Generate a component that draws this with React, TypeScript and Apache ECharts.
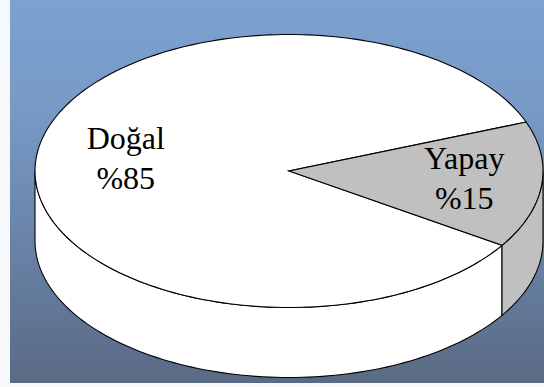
import React, { useEffect, useRef } from "react";
import * as echarts from "echarts";

const categories = ["Doğal", "Yapay"];
const values = [85, 15];
const sliceColors = ["#FFFFFF", "#C0C0C0"];
const labelPrefix = "%";

// geometry of the 3D pie (pixels)
const CX = 289;
const CY = 171;
const RX = 254;
const RY = 136.5;
const DEPTH = 70;
const START_DEG = 33;
const LABEL_R = 0.67;
const LINE_GAP = 40;
const FONT = "32px Times New Roman";

const total = values.reduce((a, b) => a + b, 0);
const sliceAngles = (() => {
  let acc = START_DEG;
  return values.map((v) => {
    const a0 = acc;
    const a1 = acc + (v / total) * 360;
    acc = a1;
    return { a0, a1 };
  });
})();

const pt = (deg: number, dy = 0, r = 1): number[] => {
  const t = (deg * Math.PI) / 180;
  return [CX + r * RX * Math.cos(t), CY + r * RY * Math.sin(t) + dy];
};

const arc = (from: number, to: number, dy = 0): number[][] => {
  const n = Math.max(2, Math.ceil(Math.abs(to - from) / 1.5));
  const out: number[][] = [];
  for (let i = 0; i <= n; i++) out.push(pt(from + ((to - from) * i) / n, dy));
  return out;
};

const measure = (txt: string): number => {
  const c = document.createElement("canvas").getContext("2d");
  if (!c) return txt.length * 16;
  c.font = FONT;
  return c.measureText(txt).width;
};

export default function App() {
  const ref = useRef<HTMLDivElement>(null);
  useEffect(() => {
    if (!ref.current) return;
    const chart = echarts.init(ref.current, undefined, { renderer: "svg" });
    const data = values.map((v, i) => ({ name: categories[i], value: v }));
    const labels: any[] = [];
    values.forEach((v, i) => {
      const { a0, a1 } = sliceAngles[i];
      const lp = pt((a0 + a1) / 2, -3, LABEL_R);
      [categories[i], labelPrefix + v].forEach((line, j) => {
        const w = measure(line);
        labels.push({
          type: "text",
          x: lp[0] + 6 - w / 2,
          y: lp[1] + (j - 0.5) * LINE_GAP - 16,
          style: { text: line, font: FONT, fill: "#000" },
        });
      });
    });
    chart.setOption({
      animation: false,
      graphic: [
        {
          type: "rect",
          z: 0,
          shape: { x: 0, y: 0, width: 544, height: 387 },
          style: { fill: "#F7F8FA" },
        },
        {
          type: "rect",
          z: 1,
          shape: { x: 10, y: 0, width: 534, height: 383 },
          style: {
            fill: new echarts.graphic.LinearGradient(0, 0, 0, 1, [
              { offset: 0, color: "#7CA2CF" },
              { offset: 0.3, color: "#7799C6" },
              { offset: 1, color: "#5A6A84" },
            ]),
          },
        },
        ...labels.map((l) => ({ ...l, z: 100 })),
      ],
      series: [
        {
          type: "custom",
          coordinateSystem: "none",
          z: 5,
          data,
          renderItem: (params: any) => {
            const { a0, a1 } = sliceAngles[params.dataIndex];
            const children: any[] = [];
            for (let k = -1; k <= 2; k++) {
              const lo = Math.max(a0, k * 360);
              const hi = Math.min(a1, k * 360 + 180);
              if (hi > lo) {
                const pts = arc(lo, hi).concat(arc(hi, lo, DEPTH));
                children.push({
                  type: "polygon",
                  shape: { points: pts },
                  style: {
                    fill: sliceColors[params.dataIndex],
                    stroke: "#000",
                    lineWidth: 1.1,
                  },
                });
              }
            }
            return { type: "group", children };
          },
        },
        {
          type: "custom",
          coordinateSystem: "none",
          z: 6,
          data,
          renderItem: (params: any) => {
            const i = params.dataIndex;
            const { a0, a1 } = sliceAngles[i];
            const pts = [[CX, CY]].concat(arc(a0, a1));
            return {
              type: "polygon",
              shape: { points: pts },
              style: { fill: sliceColors[i], stroke: "#000", lineWidth: 1.1 },
            };
          },
        },
      ],
    });
    return () => chart.dispose();
  }, []);
  return (
    <div
      ref={ref}
      style={{ position: "absolute", left: 0, top: 0, width: 544, height: 387 }}
    />
  );
}
